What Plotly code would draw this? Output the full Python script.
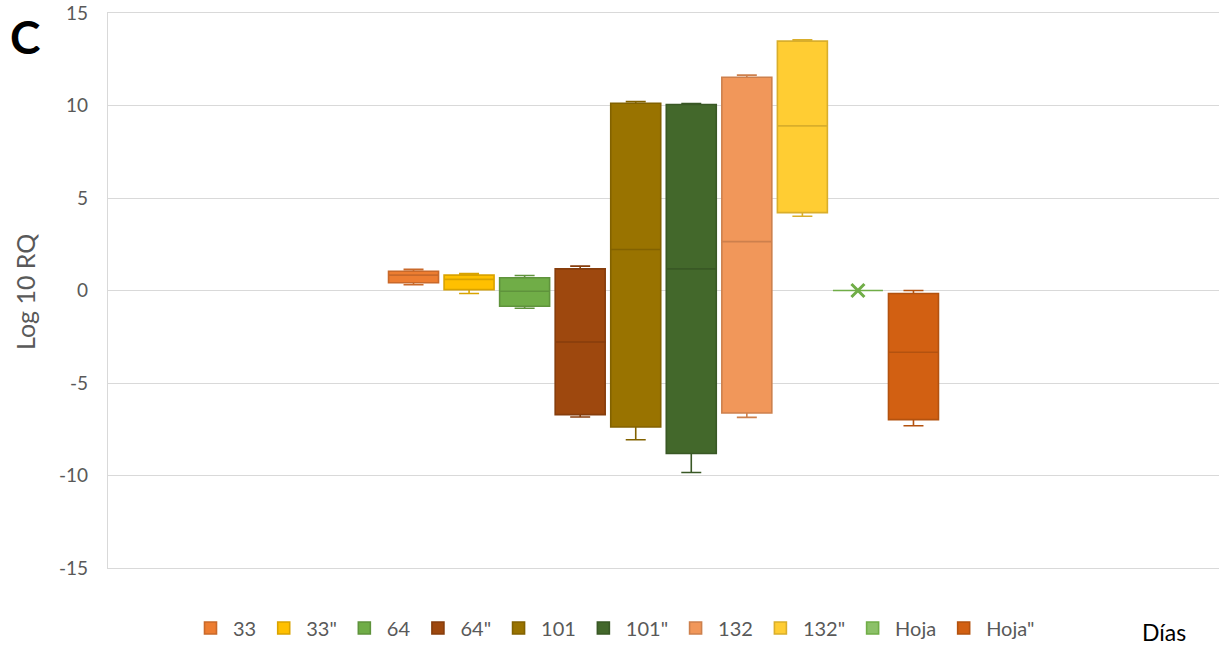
import plotly.graph_objects as go

# Log10 RQ summary per sampling day (box-and-whisker statistics)
series = ["33", '33"', "64", '64"', "101", '101"', "132", '132"', "Hoja", 'Hoja"']
upper_whisker = [1.14, 0.92, 0.81, 1.32, 10.22, 10.10, 11.64, 13.55, 0.0, 0.00]
q3_values = [1.04, 0.83, 0.69, 1.17, 10.12, 10.05, 11.53, 13.48, 0.0, -0.16]
median_values = [0.83, 0.60, -0.04, -2.78, 2.22, 1.17, 2.64, 8.90, 0.0, -3.34]
q1_values = [0.42, 0.05, -0.85, -6.71, -7.38, -8.81, -6.62, 4.21, 0.0, -6.98]
lower_whisker = [0.31, -0.16, -0.96, -6.84, -8.07, -9.84, -6.86, 4.01, 0.0, -7.31]
hoja_values = [0.0]
y_ticks = [-15, -10, -5, 0, 5, 10, 15]

fill_colors = ["#ED7D31", "#FFC000", "#70AD47", "#9E480E", "#997300",
               "#43682B", "#F1975A", "#FFCD33", "#8CC168", "#D26012"]
line_colors = ["#C9692A", "#D9A300", "#5F933C", "#863D0C", "#826200",
               "#395825", "#CD804D", "#D9AE2B", "#70AD47", "#B3520F"]

FONT = "Lato, 'Open Sans', sans-serif"
GREY = "#595959"
GRID = "#D9D9D9"

# plot area in pixels
PLOT_L, PLOT_R, PLOT_T, PLOT_B = 108, 1219, 13, 568
PW, PH = PLOT_R - PLOT_L, PLOT_B - PLOT_T


def px_x(x):
    return (x - PLOT_L) / PW


def px_y(y):
    return (PLOT_B - y) / PH


fig = go.Figure()
for i, name in enumerate(series):
    common = dict(
        name=name,
        x=["d"],
        fillcolor=fill_colors[i],
        line=dict(color=line_colors[i], width=1.6),
        whiskerwidth=0.4,
        offsetgroup=str(i),
        hoverinfo="skip",
    )
    if name == "Hoja":
        fig.add_trace(go.Box(
            y=hoja_values,
            boxpoints="all", jitter=0, pointpos=0,
            marker=dict(symbol="x-thin", size=13, color="#70AD47",
                        line=dict(color="#70AD47", width=3)),
            **common,
        ))
    else:
        fig.add_trace(go.Box(
            q1=[q1_values[i]], median=[median_values[i]], q3=[q3_values[i]],
            lowerfence=[lower_whisker[i]], upperfence=[upper_whisker[i]],
            boxpoints=False,
            **common,
        ))

fig.update_layout(
    width=1225, height=646,
    margin=dict(l=PLOT_L, r=1225 - PLOT_R, t=PLOT_T, b=646 - PLOT_B,
                autoexpand=False),
    paper_bgcolor="white", plot_bgcolor="white",
    boxmode="group", boxgap=0.5, boxgroupgap=0.1,
    font=dict(family=FONT, color=GREY, size=18),
    showlegend=True,
    legend=dict(
        orientation="h", x=px_x(614), xanchor="center",
        y=px_y(628), yanchor="middle",
        font=dict(size=20, color=GREY, family=FONT),
        itemwidth=35, traceorder="normal",
    ),
    xaxis=dict(
        type="category", range=[-0.5, 0.5], showticklabels=False,
        showgrid=False, zeroline=False, ticks="",
        # top and bottom border lines coincide with the 15 / -15 gridlines
        showline=True, mirror=True, linecolor=GRID, linewidth=1.4,
    ),
    yaxis=dict(
        range=[-15, 15], tickvals=y_ticks, ticktext=[str(v) for v in y_ticks],
        showgrid=True, gridcolor=GRID, gridwidth=1.4,
        zeroline=False, showline=True, linecolor=GRID, linewidth=1.4,
        ticks="", ticklabelstandoff=15,
        tickfont=dict(size=19, color=GREY, family=FONT),
    ),
    annotations=[
        dict(text="Log 10 RQ", textangle=-90, xref="paper", yref="paper",
             x=px_x(25), y=px_y(292), xanchor="center", yanchor="middle",
             showarrow=False, font=dict(size=25, color=GREY, family=FONT)),
        dict(text="<b>C</b>", xref="paper", yref="paper",
             x=px_x(8), y=px_y(36), xanchor="left",
             yanchor="middle", showarrow=False,
             font=dict(size=46, color="black", family=FONT)),
        dict(text="Días", xref="paper", yref="paper",
             x=px_x(1164), y=px_y(632), xanchor="center",
             yanchor="middle", showarrow=False,
             font=dict(size=23, color="black", family=FONT)),
    ],
)

fig.write_html("out.html")
